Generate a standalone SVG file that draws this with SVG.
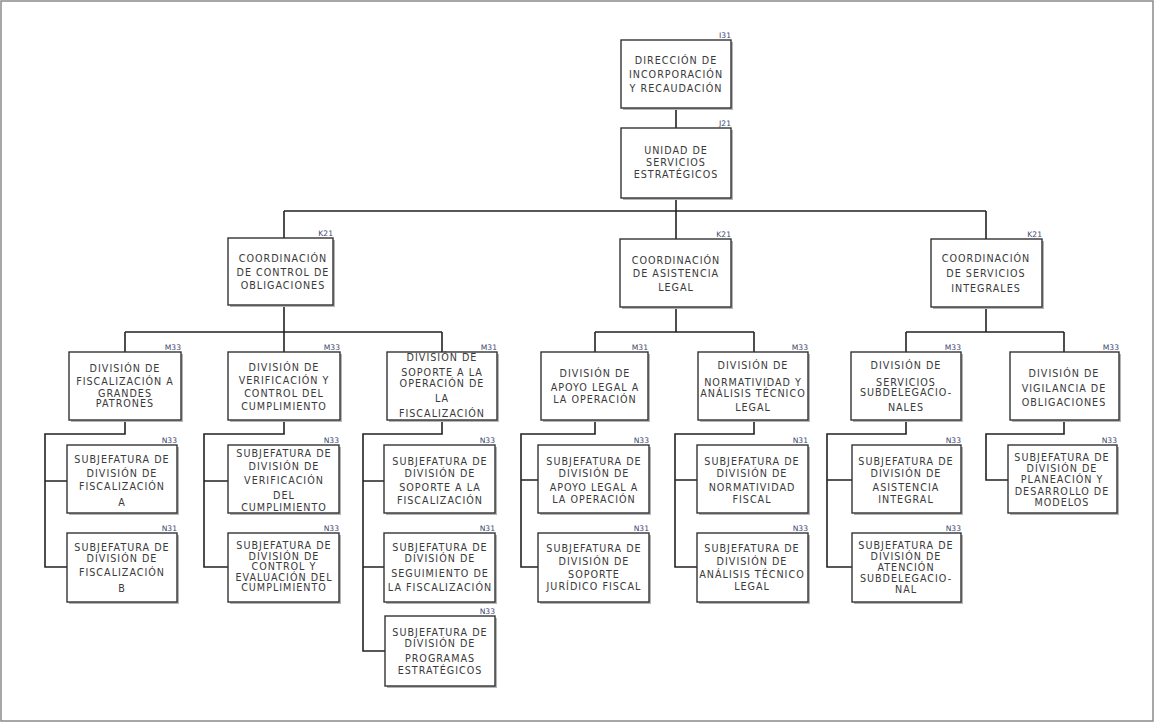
<svg xmlns="http://www.w3.org/2000/svg" width="1155" height="723" viewBox="0 0 1155 723">
<style>
.bg{fill:#fff}
.frame{fill:none;stroke:#8a8a8a;stroke-width:1.5}
.box{fill:#fff;stroke:#333;stroke-width:1.4}
.sh{fill:#b5b5b5}
.t{font-family:"DejaVu Sans",sans-serif;font-size:9.6px;letter-spacing:1px;fill:#3a3a3a;text-anchor:middle}
.lb{font-family:"DejaVu Sans",sans-serif;font-size:7.6px;fill:#3b4670;text-anchor:end}
.c{stroke:#222;stroke-width:1.6;fill:none}
</style>
<rect class="bg" x="0" y="0" width="1155" height="723"/>
<rect class="frame" x="1" y="1" width="1152" height="720"/>

<g id="connectors">
<path class="c" d="M676 108V128 M676 198V211 M284 211H986 M284 211V238 M676 211V239 M986 211V239"/>
<path class="c" d="M284 305V332 M125 332H442 M125 332V352 M284 332V352 M442 332V352"/>
<path class="c" d="M676 307V332 M595 332H754 M595 332V352 M754 332V352"/>
<path class="c" d="M986 307V332 M906 332H1064 M906 332V352 M1064 332V352"/>
<path class="c" d="M125 420V434H45V567H67 M45 481H67"/>
<path class="c" d="M284 420V434H204V567H228 M204 481H228"/>
<path class="c" d="M442 420V434H363V651H385 M363 481H384 M363 567H384"/>
<path class="c" d="M595 420V434H521V567H538 M521 480H538"/>
<path class="c" d="M754 420V434H675V567H697 M675 480H697"/>
<path class="c" d="M906 420V434H827V567H852 M827 480H852"/>
<path class="c" d="M1064 420V434H986V480H1008"/>
</g>

<g id="n-direccion">
<rect class="sh" x="623" y="42" width="110" height="68"/><rect class="box" x="621" y="40" width="110" height="68"/>
<text class="lb" x="731" y="38">I31</text>
<text class="t"><tspan x="676" y="63.5">DIRECCIÓN DE</tspan><tspan x="676" y="77.5">INCORPORACIÓN</tspan><tspan x="676" y="91.5">Y RECAUDACIÓN</tspan></text>
</g>
<g id="n-unidad">
<rect class="sh" x="623" y="130" width="110" height="70"/><rect class="box" x="621" y="128" width="110" height="70"/>
<text class="lb" x="731" y="126">J21</text>
<text class="t"><tspan x="676" y="153.5">UNIDAD  DE</tspan><tspan x="676" y="166">SERVICIOS</tspan><tspan x="676" y="178">ESTRATÉGICOS</tspan></text>
</g>

<g id="n-coord-control">
<rect class="sh" x="230" y="240" width="105" height="67"/><rect class="box" x="228" y="238" width="105" height="67"/>
<text class="lb" x="333" y="236">K21</text>
<text class="t"><tspan x="283" y="261.5">COORDINACIÓN</tspan><tspan x="283" y="275.5">DE CONTROL DE</tspan><tspan x="283" y="288.5">OBLIGACIONES</tspan></text>
</g>
<g id="n-coord-asistencia">
<rect class="sh" x="622" y="241" width="111" height="68"/><rect class="box" x="620" y="239" width="111" height="68"/>
<text class="lb" x="731" y="237">K21</text>
<text class="t"><tspan x="676" y="263.5">COORDINACIÓN</tspan><tspan x="676" y="276.5">DE ASISTENCIA</tspan><tspan x="676" y="290.5">LEGAL</tspan></text>
</g>
<g id="n-coord-servicios">
<rect class="sh" x="933" y="241" width="111" height="68"/><rect class="box" x="931" y="239" width="111" height="68"/>
<text class="lb" x="1042" y="237">K21</text>
<text class="t"><tspan x="986" y="261.5">COORDINACIÓN</tspan><tspan x="986" y="276.5">DE SERVICIOS</tspan><tspan x="986" y="291.5">INTEGRALES</tspan></text>
</g>

<g id="n-div-fisc">
<rect class="sh" x="71" y="354" width="112" height="68"/><rect class="box" x="69" y="352" width="112" height="68"/>
<text class="lb" x="181" y="350">M33</text>
<text class="t"><tspan x="125" y="371.5">DIVISIÓN DE</tspan><tspan x="125" y="384.5">FISCALIZACIÓN A</tspan><tspan x="125" y="396.5">GRANDES</tspan><tspan x="125" y="406.5">PATRONES</tspan></text>
</g>
<g id="n-div-verif">
<rect class="sh" x="230" y="354" width="112" height="68"/><rect class="box" x="228" y="352" width="112" height="68"/>
<text class="lb" x="340" y="350">M33</text>
<text class="t"><tspan x="284" y="370.5">DIVISIÓN DE</tspan><tspan x="284" y="383.5">VERIFICACIÓN Y</tspan><tspan x="284" y="396.5">CONTROL DEL</tspan><tspan x="284" y="409.5">CUMPLIMIENTO</tspan></text>
</g>
<g id="n-div-soporte">
<rect class="sh" x="389" y="354" width="110" height="68"/><rect class="box" x="387" y="352" width="110" height="68"/>
<text class="lb" x="497" y="350">M31</text>
<text class="t"><tspan x="442" y="360.5">DIVISIÓN DE</tspan><tspan x="442" y="375.5">SOPORTE A LA</tspan><tspan x="442" y="386.5">OPERACIÓN DE</tspan><tspan x="442" y="401.5">LA</tspan><tspan x="442" y="416.5">FISCALIZACIÓN</tspan></text>
</g>
<g id="n-div-apoyo">
<rect class="sh" x="543" y="354" width="107" height="68"/><rect class="box" x="541" y="352" width="107" height="68"/>
<text class="lb" x="648" y="350">M31</text>
<text class="t"><tspan x="595" y="376.5">DIVISIÓN DE</tspan><tspan x="595" y="390.5">APOYO LEGAL A</tspan><tspan x="595" y="402.5">LA OPERACIÓN</tspan></text>
</g>
<g id="n-div-normatividad">
<rect class="sh" x="700" y="354" width="110" height="68"/><rect class="box" x="698" y="352" width="110" height="68"/>
<text class="lb" x="808" y="350">M33</text>
<text class="t"><tspan x="753" y="368.5">DIVISIÓN DE</tspan><tspan x="753" y="385.5">NORMATIVIDAD Y</tspan><tspan x="753" y="396.5">ANÁLISIS TÉCNICO</tspan><tspan x="753" y="410.5">LEGAL</tspan></text>
</g>
<g id="n-div-servicios">
<rect class="sh" x="853" y="354" width="110" height="68"/><rect class="box" x="851" y="352" width="110" height="68"/>
<text class="lb" x="961" y="350">M33</text>
<text class="t"><tspan x="906" y="368.5">DIVISIÓN DE</tspan><tspan x="906" y="385.5">SERVICIOS</tspan><tspan x="906" y="395.5">SUBDELEGACIO-</tspan><tspan x="906" y="410.5">NALES</tspan></text>
</g>
<g id="n-div-vigilancia">
<rect class="sh" x="1012" y="354" width="109" height="68"/><rect class="box" x="1010" y="352" width="109" height="68"/>
<text class="lb" x="1119" y="350">M33</text>
<text class="t"><tspan x="1064" y="376.5">DIVISIÓN DE</tspan><tspan x="1064" y="391.5">VIGILANCIA DE</tspan><tspan x="1064" y="405.5">OBLIGACIONES</tspan></text>
</g>

<g id="n-sub-fisc-a">
<rect class="sh" x="69" y="447" width="110" height="68"/><rect class="box" x="67" y="445" width="110" height="68"/>
<text class="lb" x="177" y="443">N33</text>
<text class="t"><tspan x="122" y="462.5">SUBJEFATURA DE</tspan><tspan x="122" y="476.5">DIVISIÓN DE</tspan><tspan x="122" y="489.5">FISCALIZACIÓN</tspan><tspan x="122" y="505.5">A</tspan></text>
</g>
<g id="n-sub-fisc-b">
<rect class="sh" x="69" y="535" width="110" height="69"/><rect class="box" x="67" y="533" width="110" height="69"/>
<text class="lb" x="177" y="531">N31</text>
<text class="t"><tspan x="122" y="550.5">SUBJEFATURA DE</tspan><tspan x="122" y="561.5">DIVISIÓN DE</tspan><tspan x="122" y="575.5">FISCALIZACIÓN</tspan><tspan x="122" y="591.5">B</tspan></text>
</g>
<g id="n-sub-verif">
<rect class="sh" x="230" y="447" width="111" height="68"/><rect class="box" x="228" y="445" width="111" height="68"/>
<text class="lb" x="339" y="443">N33</text>
<text class="t"><tspan x="284" y="456.5">SUBJEFATURA DE</tspan><tspan x="284" y="469.5">DIVISIÓN DE</tspan><tspan x="284" y="483.5">VERIFICACIÓN</tspan><tspan x="284" y="498.5">DEL</tspan><tspan x="284" y="510.5">CUMPLIMIENTO</tspan></text>
</g>
<g id="n-sub-control">
<rect class="sh" x="230" y="535" width="111" height="69"/><rect class="box" x="228" y="533" width="111" height="69"/>
<text class="lb" x="339" y="531">N33</text>
<text class="t"><tspan x="284" y="548.5">SUBJEFATURA DE</tspan><tspan x="284" y="559.5">DIVISIÓN DE</tspan><tspan x="284" y="569.5">CONTROL Y</tspan><tspan x="284" y="580.5">EVALUACIÓN DEL</tspan><tspan x="284" y="590.5">CUMPLIMIENTO</tspan></text>
</g>
<g id="n-sub-soporte">
<rect class="sh" x="386" y="447" width="111" height="68"/><rect class="box" x="384" y="445" width="111" height="68"/>
<text class="lb" x="495" y="443">N33</text>
<text class="t"><tspan x="440" y="464.5">SUBJEFATURA DE</tspan><tspan x="440" y="476.5">DIVISIÓN DE</tspan><tspan x="440" y="490.5">SOPORTE A LA</tspan><tspan x="440" y="503.5">FISCALIZACIÓN</tspan></text>
</g>
<g id="n-sub-seguimiento">
<rect class="sh" x="386" y="535" width="111" height="69"/><rect class="box" x="384" y="533" width="111" height="69"/>
<text class="lb" x="495" y="531">N31</text>
<text class="t"><tspan x="440" y="550.5">SUBJEFATURA DE</tspan><tspan x="440" y="561.5">DIVISIÓN DE</tspan><tspan x="440" y="576.5">SEGUIMIENTO DE</tspan><tspan x="440" y="590.5">LA FISCALIZACIÓN</tspan></text>
</g>
<g id="n-sub-programas">
<rect class="sh" x="387" y="618" width="110" height="70"/><rect class="box" x="385" y="616" width="110" height="70"/>
<text class="lb" x="495" y="614">N33</text>
<text class="t"><tspan x="440" y="635.5">SUBJEFATURA DE</tspan><tspan x="440" y="646.5">DIVISIÓN DE</tspan><tspan x="440" y="661.5">PROGRAMAS</tspan><tspan x="440" y="673.5">ESTRATÉGICOS</tspan></text>
</g>
<g id="n-sub-apoyo">
<rect class="sh" x="540" y="447" width="111" height="68"/><rect class="box" x="538" y="445" width="111" height="68"/>
<text class="lb" x="649" y="443">N33</text>
<text class="t"><tspan x="594" y="464.5">SUBJEFATURA DE</tspan><tspan x="594" y="476.5">DIVISIÓN DE</tspan><tspan x="594" y="490.5">APOYO LEGAL A</tspan><tspan x="594" y="502.5">LA OPERACIÓN</tspan></text>
</g>
<g id="n-sub-juridico">
<rect class="sh" x="540" y="535" width="111" height="69"/><rect class="box" x="538" y="533" width="111" height="69"/>
<text class="lb" x="649" y="531">N31</text>
<text class="t"><tspan x="594" y="551.5">SUBJEFATURA DE</tspan><tspan x="594" y="564.5">DIVISIÓN DE</tspan><tspan x="594" y="577.5">SOPORTE</tspan><tspan x="594" y="589.5">JURÍDICO FISCAL</tspan></text>
</g>
<g id="n-sub-normatividad">
<rect class="sh" x="699" y="447" width="111" height="68"/><rect class="box" x="697" y="445" width="111" height="68"/>
<text class="lb" x="808" y="443">N31</text>
<text class="t"><tspan x="752" y="464.5">SUBJEFATURA DE</tspan><tspan x="752" y="476.5">DIVISIÓN DE</tspan><tspan x="752" y="490.5">NORMATIVIDAD</tspan><tspan x="752" y="502.5">FISCAL</tspan></text>
</g>
<g id="n-sub-analisis">
<rect class="sh" x="699" y="535" width="111" height="69"/><rect class="box" x="697" y="533" width="111" height="69"/>
<text class="lb" x="808" y="531">N33</text>
<text class="t"><tspan x="752" y="551.5">SUBJEFATURA DE</tspan><tspan x="752" y="564.5">DIVISIÓN DE</tspan><tspan x="752" y="577.5">ANÁLISIS TÉCNICO</tspan><tspan x="752" y="589.5">LEGAL</tspan></text>
</g>
<g id="n-sub-asistencia">
<rect class="sh" x="854" y="447" width="109" height="68"/><rect class="box" x="852" y="445" width="109" height="68"/>
<text class="lb" x="961" y="443">N33</text>
<text class="t"><tspan x="906" y="464.5">SUBJEFATURA DE</tspan><tspan x="906" y="476.5">DIVISIÓN DE</tspan><tspan x="906" y="490.5">ASISTENCIA</tspan><tspan x="906" y="502.5">INTEGRAL</tspan></text>
</g>
<g id="n-sub-atencion">
<rect class="sh" x="854" y="535" width="109" height="69"/><rect class="box" x="852" y="533" width="109" height="69"/>
<text class="lb" x="961" y="531">N33</text>
<text class="t"><tspan x="906" y="548.5">SUBJEFATURA DE</tspan><tspan x="906" y="559.5">DIVISIÓN DE</tspan><tspan x="906" y="570.5">ATENCIÓN</tspan><tspan x="906" y="581.5">SUBDELEGACIO-</tspan><tspan x="906" y="592.5">NAL</tspan></text>
</g>
<g id="n-sub-planeacion">
<rect class="sh" x="1010" y="447" width="109" height="68"/><rect class="box" x="1008" y="445" width="109" height="68"/>
<text class="lb" x="1117" y="443">N33</text>
<text class="t"><tspan x="1062" y="460.5">SUBJEFATURA DE</tspan><tspan x="1062" y="471.5">DIVISIÓN DE</tspan><tspan x="1062" y="482.5">PLANEACIÓN Y</tspan><tspan x="1062" y="494.5">DESARROLLO DE</tspan><tspan x="1062" y="505.5">MODELOS</tspan></text>
</g>
</svg>
